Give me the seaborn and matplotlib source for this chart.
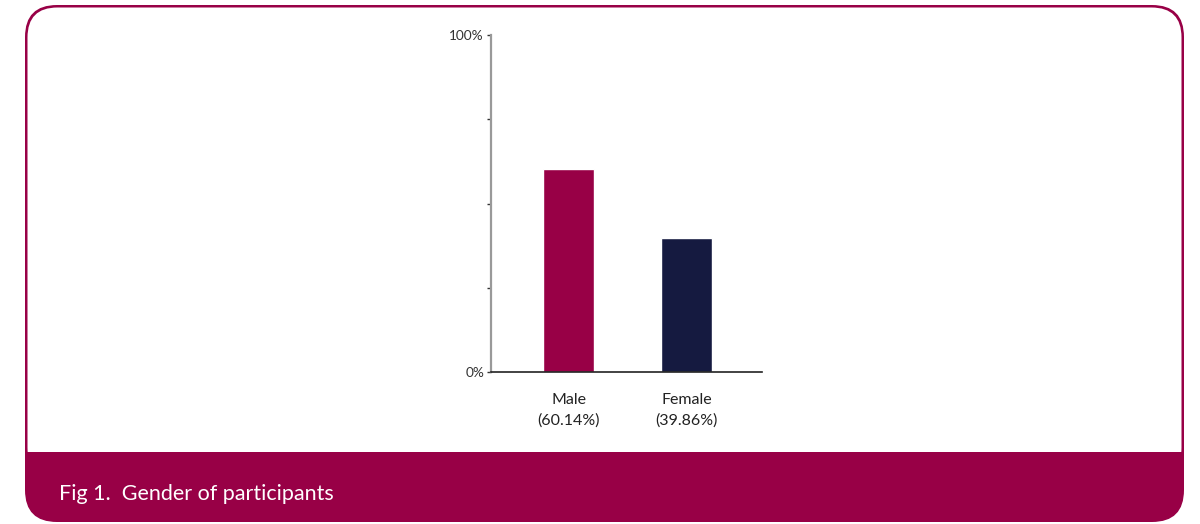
import matplotlib
matplotlib.use("Agg")
import matplotlib.pyplot as plt
import seaborn as sns
import pandas as pd
from matplotlib.patches import FancyBboxPatch, Rectangle

categories = ["Male", "Female"]
values = [60.14, 39.86]
tick_labels = ["Male\n(60.14%)", "Female\n(39.86%)"]
colors = ["#980046", "#151a40"]
title = "Fig 1.  Gender of participants"

sns.set_theme(style="white")
plt.rcParams["font.family"] = ["Lato", "DejaVu Sans"]

W, H = 1200, 524
fig = plt.figure(figsize=(W / 100, H / 100), dpi=100)
fig.patch.set_facecolor("white")

# background frame in pixel coordinates
bg = fig.add_axes([0, 0, 1, 1])
bg.set_xlim(0, W)
bg.set_ylim(H, 0)
bg.axis("off")
maroon = "#980046"
bg.add_patch(FancyBboxPatch((25, 5), 1159, 517, boxstyle="round,pad=0,rounding_size=32",
                            fc=maroon, ec="none"))
bg.add_patch(FancyBboxPatch((27.5, 7.5), 1154, 470, boxstyle="round,pad=0,rounding_size=30",
                            fc="white", ec="none"))
bg.add_patch(Rectangle((26, 452), 1157, 40, fc=maroon, ec="none"))
bg.text(59, 494, title, color="white", fontsize=15.5, va="center", ha="left")

ax = fig.add_axes([491 / W, 1 - 372 / H, (762 - 491) / W, (372 - 35) / H])
df = pd.DataFrame({"category": categories, "value": values})
sns.barplot(data=df, x="category", y="value", hue="category", palette=colors,
            width=0.43, ax=ax, legend=False, saturation=1)
ax.set_xlim(-0.66, 1.64)
ax.set_ylim(0, 100)
ax.set_yticks([0, 25, 50, 75, 100])
ax.set_yticklabels(["0%", "", "", "", "100%"], fontsize=9.8, color="#333333")
ax.set_xticks([0, 1])
ax.set_xticklabels(tick_labels, fontsize=11.5, color="#222222", linespacing=1.55)
ax.set_xlabel("")
ax.set_ylabel("")
ax.set_facecolor("none")
for s in ["top", "right"]:
    ax.spines[s].set_visible(False)
ax.spines["left"].set_color("#999999")
ax.spines["left"].set_linewidth(1.6)
ax.spines["bottom"].set_color("#222222")
ax.spines["bottom"].set_linewidth(1.2)
ax.tick_params(axis="y", which="both", left=True, length=3, width=1, color="#333333", pad=2)
ax.tick_params(axis="x", bottom=False, pad=9)

fig.savefig("out.png", dpi=100, facecolor="white")
